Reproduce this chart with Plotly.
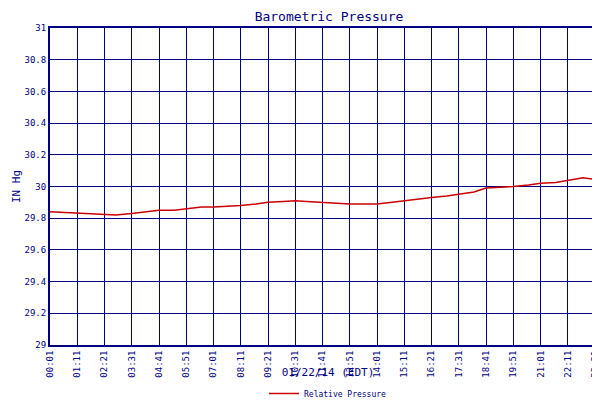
import plotly.graph_objects as go

tick_labels = ["00:01","01:11","02:21","03:31","04:41","05:51","07:01","08:11","09:21","10:31","11:41","12:51","14:01","15:11","16:21","17:31","18:41","19:51","21:01","22:11","23:21","23:49"]
times = ["00:01","00:40","01:11","01:50","02:21","02:50","03:31","04:00","04:41","05:20","05:51","06:30","07:01","07:40","08:11","08:50","09:21","10:00","10:31","11:00","11:41","12:20","12:51","13:30","14:01","14:40","15:11","15:50","16:21","17:00","17:31","18:10","18:41","19:20","19:51","20:30","21:01","21:40","22:11","22:50","23:21","23:49"]
pressure = [29.84,29.835,29.83,29.825,29.82,29.82,29.83,29.84,29.85,29.85,29.86,29.87,29.87,29.875,29.88,29.89,29.90,29.905,29.91,29.905,29.90,29.895,29.89,29.89,29.89,29.90,29.91,29.92,29.93,29.94,29.95,29.965,29.99,29.995,30.00,30.01,30.02,30.025,30.04,30.055,30.045,30.05]

def mins(t):
    h, m = t.split(":")
    return int(h) * 60 + int(m)

x = [mins(t) for t in times]
tickvals = [mins(t) for t in tick_labels]
navy = "#000080"

fig = go.Figure(go.Scatter(x=x, y=pressure, mode="lines", name="Relative Pressure",
                           line=dict(color="#cc0000", width=1.5)))
fig.update_layout(
    width=600, height=400, margin=dict(l=42, r=2, t=20, b=63, autoexpand=False),
    paper_bgcolor="white", plot_bgcolor="white",
    font=dict(family="DejaVu Sans Mono", size=9, color=navy),
    title=dict(text="Barometric Pressure", x=0.535, y=0.99, xanchor="center", yanchor="top",
               font=dict(size=13, color=navy)),
    showlegend=True,
    legend=dict(orientation="h", x=0.5, xanchor="center", yref="container", y=0.0, yanchor="bottom",
                font=dict(size=8, color=navy)),
)
fig.update_xaxes(range=[1, 1429], tickvals=tickvals, ticktext=tick_labels, tickangle=-90,
                 automargin=False,
                 showgrid=True, gridcolor=navy, gridwidth=1, showline=True, linecolor=navy,
                 linewidth=2, mirror=True, zeroline=False, ticks="",
                 title=dict(text="01/22/14 (EDT)", font=dict(size=11, color=navy), standoff=6))
fig.update_yaxes(range=[29, 31], dtick=0.2, showgrid=True, gridcolor=navy, gridwidth=1,
                 automargin=False,
                 showline=True, linecolor=navy, linewidth=2, mirror=True, zeroline=False, ticks="",
                 tickformat="~g",
                 title=dict(text="IN Hg", font=dict(size=11, color=navy), standoff=2))
fig.write_html("out.html")
